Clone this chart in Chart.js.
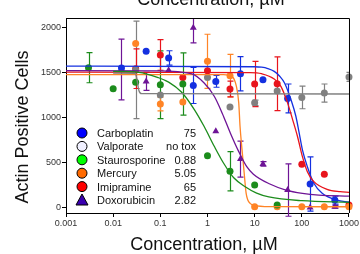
<!DOCTYPE html>
<html>
<head>
<meta charset="utf-8">
<script src="https://cdn.jsdelivr.net/npm/chart.js@4.4.1/dist/chart.umd.min.js"></script>
<style>
  html, body { margin: 0; padding: 0; background: #fff; }
  #wrap { width: 360px; height: 254px; overflow: hidden; }
</style>
</head>
<body>
<div id="wrap"><canvas id="chart" width="360" height="254"></canvas></div>
<script>
// tick labels
var xTicks = [0.001, 0.01, 0.1, 1, 10, 100, 1000];
var yTicks = [0, 500, 1000, 1500, 2000];

// legend
var legendNames = ['Carboplatin', 'Valporate', 'Staurosporine', 'Mercury', 'Imipramine', 'Doxorubicin'];
var legendIC50 = ['75', 'no tox', '0.88', '5.05', '65', '2.82'];

// Carboplatin
var carboConc = [0.015, 0.05, 0.15, 0.5, 1.5, 5, 15, 50, 150, 500];
var carboCells = [1546, 1731, 1657, 1353, 1398, 1483, 1417, 1209, 261, 83];
var carboSem = [0, 0, 80, 200, 65, 190, 0, 160, 300, 45];
var carboFitX = [0.001, 10, 14, 19, 26, 34, 43, 59, 75, 88, 103, 131, 180, 270, 555, 1000];
var carboFitY = [1567, 1560, 1555, 1540, 1509, 1455, 1380, 1194, 1009, 824, 639, 453, 269, 158, 83, 60];

// Valporate
var valpConc = [0.03, 0.1, 1, 3, 10, 30, 100, 300, 1000];
var valpCells = [1525, 1247, 1440, 1113, 1160, 1292, 1220, 1269, 1447];
var valpSem = [540, 0, 0, 0, 30, 0, 125, 100, 50];
var valpFitX = [0.01, 0.029, 0.032, 0.035, 0.04, 1000];
var valpFitY = [1490, 1488, 1420, 1300, 1262, 1258];

// Staurosporine
var stauConc = [0.003, 0.01, 0.03, 0.1, 0.3, 1, 3, 10, 30];
var stauCells = [1550, 1317, 1387, 1361, 1369, 573, 402, 250, 28];
var stauSem = [167, 0, 0, 375, 345, 0, 218, 0, 0];
var stauFitX = [0.01, 0.035, 0.09, 0.15, 0.28, 0.53, 0.85, 1.4, 2.2, 3.6, 6.3, 11, 20, 100, 1000];
var stauFitY = [1509, 1498, 1440, 1390, 1280, 1083, 898, 676, 491, 330, 231, 160, 118, 76, 58];

// Mercury
var mercConc = [0.03, 0.1, 0.3, 1, 3, 10, 30, 100, 300, 1000];
var mercCells = [1817, 1147, 1169, 1620, 1461, 9, 10, 10, 10, 10];
var mercSem = [0, 75, 0, 300, 235, 0, 0, 0, 0, 0];
var mercFitX = [0.001, 2.2, 3.3, 4.1, 4.6, 4.9, 5.4, 6, 6.6, 8, 11, 30, 1000];
var mercFitY = [1472, 1472, 1453, 1342, 1157, 898, 639, 380, 158, 47, 20, 10, 9];

// Imipramine
var imiConc = [0.03, 0.1, 0.3, 1, 3, 10, 30, 100, 300, 1000];
var imiCells = [1539, 1691, 1442, 1517, 1313, 1369, 1372, 481, 370, 30];
var imiSem = [220, 170, 0, 0, 87, 250, 297, 0, 0, 0];
var imiFitX = [0.001, 8, 14, 26, 36, 50, 64, 81, 103, 131, 180, 343, 650, 1000];
var imiFitY = [1500, 1495, 1483, 1424, 1342, 1157, 972, 787, 564, 398, 287, 202, 176, 169];

// Doxorubicin
var doxConc = [0.015, 0.05, 0.15, 0.5, 1.5, 5, 15, 50, 150, 500];
var doxCells = [1530, 1398, 1520, 1991, 846, 537, 483, 194, 2, 9];
var doxSem = [337, 100, 0, 167, 0, 200, 25, 290, 0, 15];
var doxFitX = [0.001, 0.09, 0.45, 0.85, 1.4, 2.05, 3.06, 4.6, 6.8, 9.4, 21, 46, 103, 229, 1000];
var doxFitY = [1517, 1515, 1483, 1380, 1231, 1046, 824, 620, 453, 370, 261, 194, 158, 139, 128];

var colors = {
  blue: '#1430e0',
  gray: '#808080',
  green: '#1c8c1c',
  orange: '#ff8426',
  red: '#e8141c',
  purple: '#6e1496'
};
var legendFill = ['#0000ff', '#f0f0ff', '#00ff00', '#ff6a00', '#ff0000', '#3a00b0'];
var FONT = "'Liberation Sans', Arial, sans-serif";

function pts(xs, ys) {
  return xs.map(function(x, i) { return { x: x, y: ys[i] }; });
}

function fitSet(xs, ys, color) {
  return {
    type: 'line',
    data: pts(xs, ys),
    borderColor: color,
    borderWidth: 1.3,
    pointRadius: 0,
    fill: false,
    cubicInterpolationMode: 'monotone'
  };
}

function pointSet(xs, ys, sem, color, style) {
  return {
    type: 'scatter',
    data: pts(xs, ys),
    errors: sem,
    backgroundColor: color,
    borderColor: color,
    borderWidth: 0,
    pointStyle: style || 'circle',
    pointRadius: style === 'triangle' ? 4 : 3.5,
    clip: false
  };
}

// vertical error bars with caps, under the points
var errorBars = {
  id: 'errorBars',
  beforeDatasetsDraw: function(chart) {
    var ctx = chart.ctx, xs = chart.scales.x, ys = chart.scales.y, a = chart.chartArea;
    ctx.save();
    ctx.beginPath();
    ctx.rect(a.left, a.top, a.right - a.left, a.bottom - a.top + 10);
    ctx.clip();
    chart.data.datasets.forEach(function(ds) {
      if (!ds.errors) return;
      ctx.strokeStyle = ds.borderColor;
      ctx.lineWidth = 1.2;
      ds.data.forEach(function(p, i) {
        var e = ds.errors[i];
        if (!e) return;
        var px = Math.round(xs.getPixelForValue(p.x)) + 0.5;
        var y1 = ys.getPixelForValue(p.y + e);
        var y2 = ys.getPixelForValue(p.y - e);
        ctx.beginPath();
        ctx.moveTo(px, y1); ctx.lineTo(px, y2);
        ctx.moveTo(px - 3, y1); ctx.lineTo(px + 3, y1);
        ctx.moveTo(px - 3, y2); ctx.lineTo(px + 3, y2);
        ctx.stroke();
      });
    });
    ctx.restore();
  }
};

// top and right edges of the box
var frame = {
  id: 'frame',
  afterDraw: function(chart) {
    var ctx = chart.ctx, a = chart.chartArea;
    ctx.save();
    ctx.strokeStyle = '#000';
    ctx.lineWidth = 1;
    ctx.beginPath();
    ctx.moveTo(a.left, a.top + 0.5); ctx.lineTo(a.right + 0.5, a.top + 0.5);
    ctx.lineTo(a.right + 0.5, a.bottom);
    ctx.stroke();
    ctx.restore();
  }
};

var titles = {
  id: 'titles',
  afterDraw: function(chart) {
    var ctx = chart.ctx;
    ctx.save();
    ctx.fillStyle = '#111';
    ctx.font = '18px ' + FONT;
    ctx.textAlign = 'center';
    ctx.textBaseline = 'alphabetic';
    ctx.fillText('Concentration, \u00b5M', 211, 5);
    ctx.fillText('Concentration, \u00b5M', 204, 250);
    ctx.translate(28, 127);
    ctx.rotate(-Math.PI / 2);
    ctx.fillText('Actin Positive Cells', 0, 0);
    ctx.restore();
  }
};

var legendBox = {
  id: 'legendBox',
  afterDraw: function(chart) {
    var ctx = chart.ctx;
    ctx.save();
    ctx.font = '11px ' + FONT;
    ctx.textBaseline = 'alphabetic';
    legendNames.forEach(function(name, i) {
      var cy = 133 + i * 13.4;
      ctx.fillStyle = legendFill[i];
      ctx.strokeStyle = '#000';
      ctx.lineWidth = 1;
      ctx.beginPath();
      if (i === 5) {
        ctx.moveTo(82, cy - 6); ctx.lineTo(88, cy + 5); ctx.lineTo(76, cy + 5); ctx.closePath();
      } else {
        ctx.arc(82, cy, 5, 0, Math.PI * 2);
      }
      ctx.fill();
      ctx.stroke();
      ctx.fillStyle = '#111';
      ctx.textAlign = 'left';
      ctx.fillText(name, 97, cy + 4);
      ctx.textAlign = 'right';
      ctx.fillText(legendIC50[i], 196, cy + 4);
    });
    ctx.restore();
  }
};

new Chart(document.getElementById('chart'), {
  type: 'scatter',
  data: {
    datasets: [
      fitSet(valpFitX, valpFitY, colors.gray),
      fitSet(stauFitX, stauFitY, colors.green),
      fitSet(doxFitX, doxFitY, colors.purple),
      fitSet(mercFitX, mercFitY, colors.orange),
      fitSet(imiFitX, imiFitY, colors.red),
      fitSet(carboFitX, carboFitY, colors.blue),
      pointSet(valpConc, valpCells, valpSem, colors.gray),
      pointSet(stauConc, stauCells, stauSem, colors.green),
      pointSet(mercConc, mercCells, mercSem, colors.orange),
      pointSet(imiConc, imiCells, imiSem, colors.red),
      pointSet(carboConc, carboCells, carboSem, colors.blue),
      pointSet(doxConc, doxCells, doxSem, colors.purple, 'triangle')
    ]
  },
  options: {
    responsive: false,
    animation: false,
    layout: { padding: { top: 18, right: 2, left: 0, bottom: 0 } },
    plugins: {
      legend: { display: false },
      tooltip: { enabled: false }
    },
    scales: {
      x: {
        type: 'logarithmic',
        min: 0.001,
        max: 1000,
        afterFit: function(scale) { scale.height = 41; },
        afterBuildTicks: function(scale) {
          scale.ticks = xTicks.map(function(v) { return { value: v }; });
        },
        grid: { drawOnChartArea: false, drawTicks: true, tickLength: 4, color: '#000' },
        border: { display: true, color: '#000', width: 1 },
        ticks: {
          autoSkip: false,
          maxRotation: 0,
          padding: 1,
          color: '#333',
          font: { family: FONT, size: 9 },
          callback: function(v) { return String(v); }
        }
      },
      y: {
        min: -60,
        max: 2100,
        afterFit: function(scale) { scale.width = 66; },
        afterBuildTicks: function(scale) {
          scale.ticks = yTicks.map(function(v) { return { value: v }; });
        },
        grid: { drawOnChartArea: false, drawTicks: true, tickLength: 4, color: '#000' },
        border: { display: true, color: '#000', width: 1 },
        ticks: {
          padding: 1,
          color: '#333',
          font: { family: FONT, size: 9 },
          callback: function(v) { return String(v); }
        }
      }
    }
  },
  plugins: [errorBars, frame, titles, legendBox]
});
</script>
</body>
</html>
